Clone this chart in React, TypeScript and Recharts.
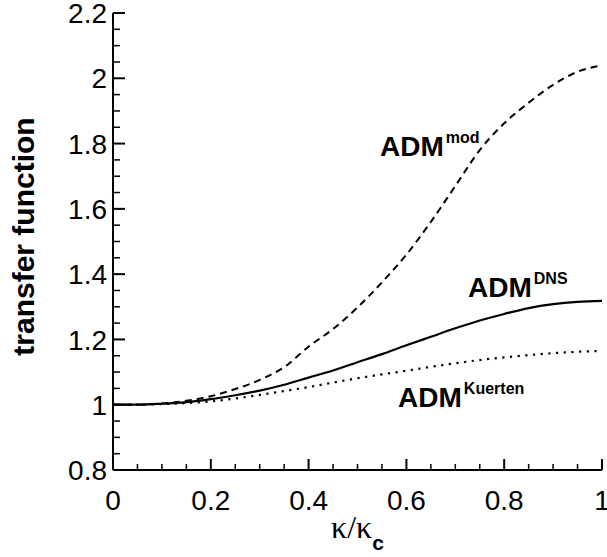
import React from "react";
import { LineChart, Line, XAxis, YAxis, ReferenceDot, Label } from "recharts";

// kappa / kappa_c
const kappa = [0, 0.05, 0.1, 0.15, 0.2, 0.25, 0.3, 0.35, 0.4, 0.45, 0.5, 0.55, 0.6, 0.65, 0.7, 0.75, 0.8, 0.85, 0.9, 0.95, 1];
const admDns = [1.0, 1.0, 1.003, 1.008, 1.017, 1.029, 1.043, 1.061, 1.083, 1.105, 1.13, 1.155, 1.182, 1.208, 1.234, 1.258, 1.278, 1.296, 1.308, 1.315, 1.318];
const admMod = [1.0, 1.0, 1.004, 1.012, 1.026, 1.048, 1.076, 1.115, 1.178, 1.232, 1.298, 1.375, 1.46, 1.56, 1.67, 1.78, 1.862, 1.925, 1.98, 2.02, 2.04];
const admKuerten = [1.0, 1.0, 1.002, 1.005, 1.01, 1.019, 1.03, 1.042, 1.054, 1.068, 1.081, 1.093, 1.104, 1.116, 1.127, 1.137, 1.145, 1.152, 1.158, 1.162, 1.165];

const xTicks = [0, 0.05, 0.1, 0.15, 0.2, 0.25, 0.3, 0.35, 0.4, 0.45, 0.5, 0.55, 0.6, 0.65, 0.7, 0.75, 0.8, 0.85, 0.9, 0.95, 1];
const yTicks = [0.8, 0.85, 0.9, 0.95, 1, 1.05, 1.1, 1.15, 1.2, 1.25, 1.3, 1.35, 1.4, 1.45, 1.5, 1.55, 1.6, 1.65, 1.7, 1.75, 1.8, 1.85, 1.9, 1.95, 2, 2.05, 2.1, 2.15, 2.2];

const annotations = [
  { x: 0.546, y: 1.762, main: "ADM", sup: "mod" },
  { x: 0.726, y: 1.33, main: "ADM", sup: "DNS" },
  { x: 0.583, y: 0.993, main: "ADM", sup: "Kuerten" },
];

const data = kappa.map((k, i) => ({
  k,
  dns: admDns[i],
  mod: admMod[i],
  kuerten: admKuerten[i],
}));

const SANS = "'Liberation Sans', Arial, Helvetica, sans-serif";

// layout
const W = 607;
const H = 557;
const Y_AXIS_W = 113;
const X_AXIS_H = 87;
const AXIS_X = Y_AXIS_W;
const AXIS_Y = H - X_AXIS_H;

const isMajor = (v: number) => Math.abs(v * 5 - Math.round(v * 5)) < 1e-6;
const fmt = (v: number) => String(Math.round(v * 10) / 10);

const XTick = (props: any) => {
  const { x, payload } = props;
  const v = payload.value;
  const major = isMajor(v);
  const y = AXIS_Y;
  return (
    <g>
      <line x1={x} x2={x} y1={y} y2={y - (major ? 11 : 6)} stroke="#000" strokeWidth={major ? 2 : 1.5} />
      {major && (
        <text x={x} y={y + 40} textAnchor="middle" fontFamily={SANS} fontSize={28} fill="#000">
          {fmt(v)}
        </text>
      )}
    </g>
  );
};

const YTick = (props: any) => {
  const { y, payload } = props;
  const v = payload.value;
  const major = isMajor(v);
  const x = AXIS_X;
  return (
    <g>
      <line x1={x} x2={x + (major ? 12 : 7)} y1={y} y2={y} stroke="#000" strokeWidth={major ? 2 : 1.5} />
      {major && (
        <text x={x - 6} y={y} dy="0.36em" textAnchor="end" fontFamily={SANS} fontSize={28} fill="#000">
          {fmt(v)}
        </text>
      )}
    </g>
  );
};

const AdmLabel = (props: any) => {
  const { viewBox, main, sup } = props;
  return (
    <text x={viewBox.x} y={viewBox.y} fontFamily={SANS} fontWeight="bold" fill="#000">
      <tspan fontSize={28}>{main}</tspan>
      <tspan fontSize={16} dx={2} dy={-13}>{sup}</tspan>
    </text>
  );
};

const XLabel = (props: any) => {
  const { viewBox } = props;
  const cx = viewBox.x + viewBox.width / 2;
  return (
    <text x={cx} y={538} textAnchor="middle" fill="#000">
      <tspan fontFamily="'Liberation Serif', 'Times New Roman', serif" fontSize={32}>κ/κ</tspan>
      <tspan fontFamily={SANS} fontWeight="bold" fontSize={21} dy={12}>c</tspan>
    </text>
  );
};

const YLabel = (props: any) => {
  const { viewBox } = props;
  const cy = viewBox.y + viewBox.height / 2 - 5;
  const cx = 23;
  return (
    <text
      x={cx}
      y={cy}
      dy="0.36em"
      textAnchor="middle"
      transform={`rotate(-90, ${cx}, ${cy})`}
      fontFamily={SANS}
      fontWeight="bold"
      fontSize={30}
      fill="#000"
    >
      transfer function
    </text>
  );
};

export default function App() {
  return (
    <div style={{ position: "absolute", left: 0, top: 0, background: "#fff" }}>
      <LineChart width={W} height={H} data={data} margin={{ top: 13, right: 5, left: 0, bottom: 0 }}>
        <XAxis
          dataKey="k"
          type="number"
          domain={[0, 1]}
          ticks={xTicks}
          interval={0}
          tickLine={false}
          tick={<XTick />}
          height={X_AXIS_H}
          axisLine={{ stroke: "#000", strokeWidth: 2 }}
        >
          <Label content={<XLabel />} />
        </XAxis>
        <YAxis
          type="number"
          domain={[0.8, 2.2]}
          ticks={yTicks}
          interval={0}
          tickLine={false}
          tick={<YTick />}
          width={Y_AXIS_W}
          axisLine={{ stroke: "#000", strokeWidth: 2 }}
        >
          <Label content={<YLabel />} />
        </YAxis>
        <Line type="monotone" dataKey="mod" stroke="#000" strokeWidth={2} strokeDasharray="7 5" dot={false} isAnimationActive={false} />
        <Line type="monotone" dataKey="dns" stroke="#000" strokeWidth={2.2} dot={false} isAnimationActive={false} />
        <Line type="monotone" dataKey="kuerten" stroke="#000" strokeWidth={2.2} strokeDasharray="2.2 5.5" dot={false} isAnimationActive={false} />
        {annotations.map((a) => (
          <ReferenceDot
            key={a.sup}
            x={a.x}
            y={a.y}
            r={0}
            fill="none"
            stroke="none"
            label={<AdmLabel main={a.main} sup={a.sup} />}
          />
        ))}
      </LineChart>
    </div>
  );
}
